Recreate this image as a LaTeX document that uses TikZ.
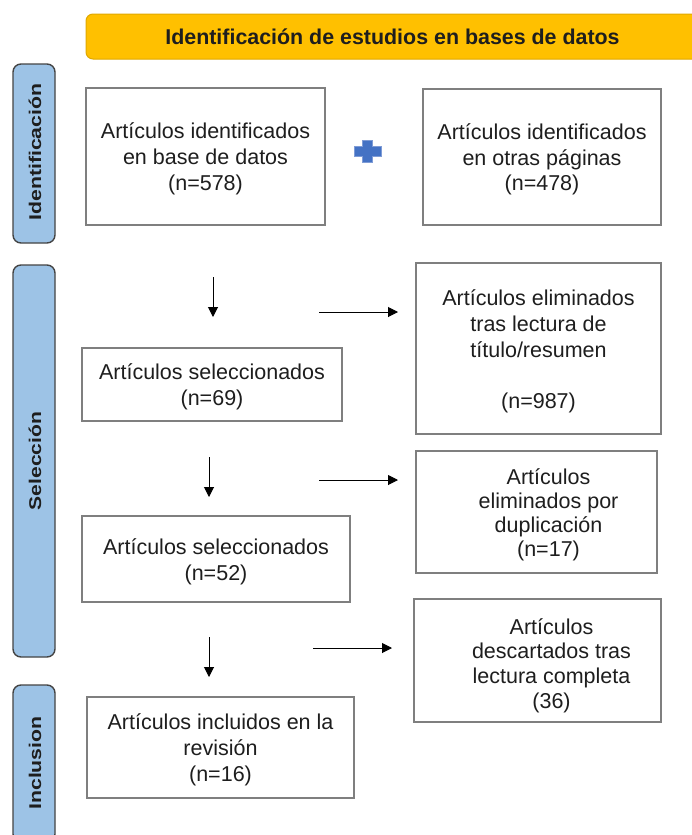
\documentclass[tikz,border=0pt]{standalone}
\usepackage{fontspec}
\setmainfont{Liberation Sans}
\usetikzlibrary{arrows.meta}
\definecolor{txtc}{HTML}{1E1E1E}
\definecolor{boxline}{HTML}{7F7F7F}
\definecolor{sidefill}{HTML}{9DC3E6}
\definecolor{sideline}{HTML}{444444}
\definecolor{titlefill}{HTML}{FFC000}
\definecolor{titleline}{HTML}{E0A800}
\definecolor{plusfill}{HTML}{4472C4}
\definecolor{plusline}{HTML}{7F9CD6}
\tikzset{
  flowbox/.style={draw=boxline, line width=1.6pt, rectangle, inner sep=0pt},
  sidebox/.style={draw=sideline, fill=sidefill, line width=1.4pt, rounded corners=8pt,
    inner sep=0pt},
  sidetext/.style={rotate=90, text=txtc, font=\bfseries\fontsize{17}{20}\selectfont, inner sep=0pt},
  bodytext/.style={align=center, text=txtc, font=\fontsize{21.5}{25.8}\selectfont, inner sep=0pt},
  flowarrow/.style={line width=1pt, -{Triangle[length=10pt,width=10pt]}}
}
\begin{document}
\begin{tikzpicture}[x=1pt,y=-1pt]
\useasboundingbox (0,0) rectangle (692,835);
\clip (0,0) rectangle (692,835);
\fill[white] (0,0) rectangle (692,835);

% title banner
\node[draw=titleline, fill=titlefill, line width=1pt, rounded corners=7pt,
  minimum width=614pt, minimum height=45pt, inner sep=0pt,
  text=txtc, font=\bfseries\fontsize{21.4}{25}\selectfont] (title) at (393,36.5)
  {\hspace{-1pt}Identificación de estudios en bases de datos};

% side labels
\node[sidebox, minimum width=42pt, minimum height=179pt] (sideid) at (34,153.5) {};
\node[sidetext] (sideidt) at (35,152) {\scalebox{1.25}[1]{Identificación}};
\node[sidebox, minimum width=42pt, minimum height=392pt] (sidesel) at (34,461) {};
\node[sidetext] (sideselt) at (35,461) {\scalebox{1.24}[1]{Selección}};
\node[sidebox, minimum width=42pt, minimum height=157pt] (sideinc) at (34,763.5) {};
\node[sidetext] (sideinct) at (35,763) {\scalebox{1.25}[1]{Inclusion}};

% boxes
\node[flowbox, minimum width=239pt, minimum height=137pt] (b1) at (205.5,156.5) {};
\node[bodytext] (b1t) at ([yshift=-2.5pt]b1.center)
  {Artículos identificados\\en base de datos\\(n=578)};
\node[flowbox, minimum width=238pt, minimum height=136pt] (b2) at (542,157) {};
\node[bodytext] (b2t) at ([yshift=-2.5pt]b2.center)
  {Artículos identificados\\en otras páginas\\(n=478)};
\node[flowbox, minimum width=245pt, minimum height=171pt] (b3) at (538.5,348.5) {};
\node[bodytext] (b3t) at ([yshift=-3pt]b3.center)
  {Artículos eliminados\\tras lectura de\\título/resumen\\[25.5pt](n=987)};
\node[flowbox, minimum width=260pt, minimum height=73pt] (b4) at (212,384.5) {};
\node[bodytext] (b4t) at ([yshift=-2.5pt]b4.center)
  {Artículos seleccionados\\(n=69)};
\node[flowbox, minimum width=241pt, minimum height=122pt] (b5) at (536.5,512) {};
\node[bodytext, font=\fontsize{21.5}{24.2}\selectfont] (b5t) at ([xshift=12pt,yshift=-3pt]b5.center)
  {Artículos\\eliminados por\\duplicación\\(n=17)};
\node[flowbox, minimum width=268pt, minimum height=86pt] (b6) at (216,559) {};
\node[bodytext] (b6t) at ([yshift=-2.5pt]b6.center)
  {Artículos seleccionados\\(n=52)};
\node[flowbox, minimum width=247pt, minimum height=123pt] (b7) at (537.5,660.5) {};
\node[bodytext, font=\fontsize{21.5}{24.7}\selectfont] (b7t) at ([xshift=14pt,yshift=-5pt]b7.center)
  {Artículos\\descartados tras\\lectura completa\\(36)};
\node[flowbox, minimum width=267pt, minimum height=101pt] (b8) at (220.5,747.5) {};
\node[bodytext] (b8t) at ([yshift=-2.5pt]b8.center)
  {Artículos incluidos en la\\revisión\\(n=16)};

% plus sign
\coordinate (plus) at (367.5,151);
\filldraw[fill=plusfill, draw=plusline, line width=0.6pt]
  (354,146) -- (362.5,146) -- (362.5,140) -- (372.5,140) -- (372.5,146)
  -- (381,146) -- (381,156) -- (372.5,156) -- (372.5,162) -- (362.5,162)
  -- (362.5,156) -- (354,156) -- cycle;

% arrow end points
\coordinate (a1s) at (213,277); \coordinate (a1e) at (213,317);
\coordinate (a2s) at (319,312); \coordinate (a2e) at (398,312);
\coordinate (a3s) at (209,457); \coordinate (a3e) at (209,497);
\coordinate (a4s) at (319,480); \coordinate (a4e) at (398,480);
\coordinate (a5s) at (209,637); \coordinate (a5e) at (209,677);
\coordinate (a6s) at (313,648); \coordinate (a6e) at (392,648);
\draw[flowarrow] (a1s) -- (a1e);
\draw[flowarrow] (a2s) -- (a2e);
\draw[flowarrow] (a3s) -- (a3e);
\draw[flowarrow] (a4s) -- (a4e);
\draw[flowarrow] (a5s) -- (a5e);
\draw[flowarrow] (a6s) -- (a6e);
\end{tikzpicture}
\end{document}
